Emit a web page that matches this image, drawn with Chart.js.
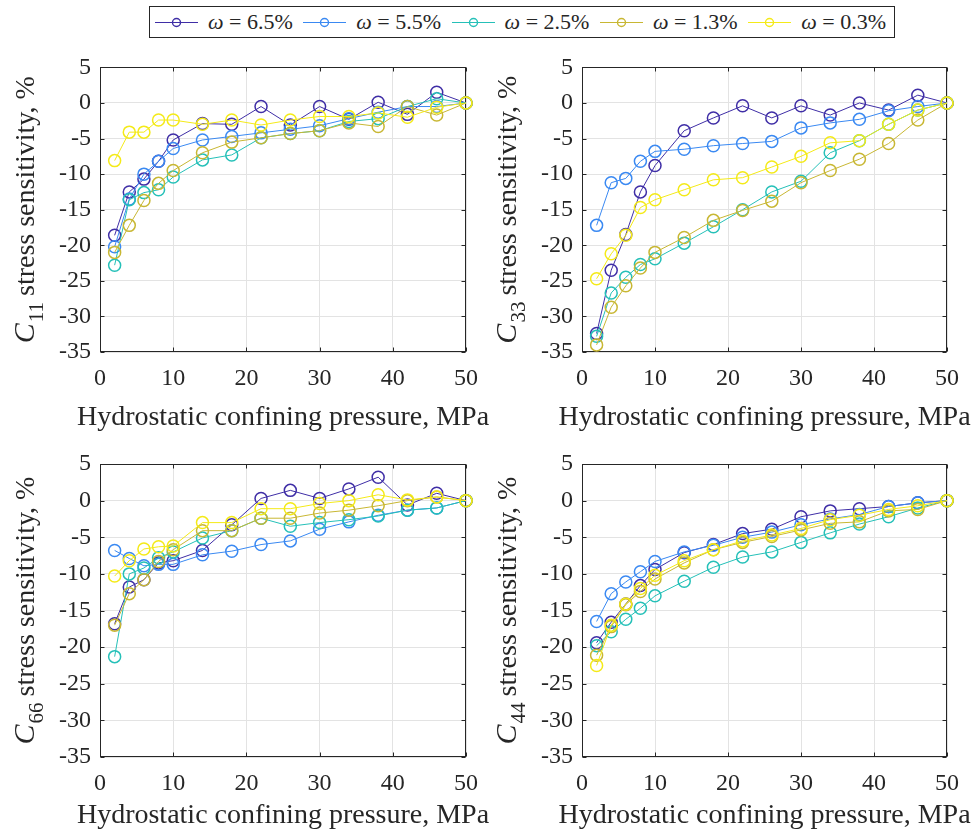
<!DOCTYPE html>
<html>
<head>
<meta charset="utf-8">
<script src="https://cdn.jsdelivr.net/npm/chart.js@4.4.1/dist/chart.umd.min.js"></script>
<style>
  body {
    margin: 0;
    width: 977px;
    height: 829px;
    position: relative;
    overflow: hidden;
    background: #fff;
    color: #262626;
    font-family: "Liberation Serif", "Times New Roman", serif;
  }
  canvas { position: absolute; }
  #legend {
    position: absolute;
    left: 149px;
    top: 6px;
    width: 746px;
    height: 32px;
    box-sizing: border-box;
    border: 1px solid #262626;
    background: #fff;
  }
  .item { position: absolute; top: 0; height: 30px; }
  .item svg { position: absolute; left: 0; top: 0; }
  .item span { position: absolute; left: 53px; top: 0; line-height: 30px; font-size: 22px; white-space: nowrap; }
</style>
</head>
<body>
<div id="legend"></div>
<canvas id="c11" width="490" height="395" style="left:0;top:44px"></canvas>
<canvas id="c33" width="489" height="395" style="left:488px;top:44px"></canvas>
<canvas id="c66" width="490" height="389" style="left:0;top:440px"></canvas>
<canvas id="c44" width="489" height="389" style="left:488px;top:440px"></canvas>
<script>
// Confining pressure, MPa
const pressure = [2, 4, 6, 8, 10, 14, 18, 22, 26, 30, 34, 38, 42, 46, 50];
// Porosity of each series, %
const omega = ['6.5', '5.5', '2.5', '1.3', '0.3'];
const xTicks = [0, 10, 20, 30, 40, 50];
const yTicks = [-35, -30, -25, -20, -15, -10, -5, 0, 5];

// C11 stress sensitivity, %
const c11W65 = [-18.6, -12.5, -10.7, -8.2, -5.2, -2.9, -3.0, -0.5, -3.1, -0.5, -2.3, 0.1, -1.6, 1.5, 0];
const c11W55 = [-20.2, -13.5, -10.0, -8.2, -6.4, -5.2, -4.7, -4.2, -3.7, -3.2, -2.2, -1.3, -0.5, -0.5, 0];
const c11W25 = [-22.8, -13.6, -12.6, -12.2, -10.4, -8.0, -7.3, -4.9, -4.3, -3.9, -2.6, -2.2, -0.5, 0.6, 0];
const c11W13 = [-21.0, -17.2, -13.7, -11.3, -9.5, -7.0, -5.5, -4.9, -4.3, -3.9, -2.8, -3.3, -0.5, -1.7, 0];
const c11W03 = [-8.1, -4.1, -4.1, -2.4, -2.4, -3.0, -2.4, -3.1, -2.4, -1.9, -1.9, -1.4, -2.0, -0.6, 0];

// C33 stress sensitivity, %
const c33W65 = [-32.4, -23.5, -18.5, -12.5, -8.8, -3.9, -2.1, -0.4, -2.1, -0.4, -1.7, 0, -1.0, 1.1, 0];
const c33W55 = [-17.2, -11.2, -10.6, -8.2, -6.8, -6.5, -6.0, -5.7, -5.4, -3.5, -2.8, -2.3, -1.1, -0.5, 0];
const c33W25 = [-32.8, -26.7, -24.5, -22.7, -21.9, -19.7, -17.4, -15.0, -12.5, -11.0, -7.0, -5.3, -3.0, -1.0, 0];
const c33W13 = [-34.0, -28.7, -25.7, -23.2, -21.0, -18.9, -16.5, -15.1, -13.8, -11.2, -9.5, -7.9, -5.7, -2.4, 0];
const c33W03 = [-24.7, -21.2, -18.6, -14.7, -13.6, -12.2, -10.8, -10.5, -9.0, -7.5, -5.6, -5.3, -3.0, -1.0, 0];

// C66 stress sensitivity, %
const c66W65 = [-16.8, -11.8, -10.8, -8.5, -8.2, -6.8, -3.3, 0.3, 1.4, 0.3, 1.6, 3.2, -0.6, 1.0, 0];
const c66W55 = [-6.8, -7.9, -8.9, -8.7, -8.7, -7.4, -6.9, -6.0, -5.5, -3.9, -2.9, -2.0, -1.3, -1.0, 0];
const c66W25 = [-21.3, -10.0, -9.2, -7.8, -7.0, -5.1, -4.1, -2.4, -3.5, -3.0, -2.6, -2.1, -1.3, -1.0, 0];
const c66W13 = [-17.0, -12.7, -10.8, -8.3, -6.7, -4.1, -4.1, -2.4, -2.4, -1.7, -1.3, -0.7, 0, 0.5, 0];
const c66W03 = [-10.3, -8.2, -6.6, -6.3, -6.2, -3.0, -3.0, -1.1, -1.1, -0.4, 0, 0.8, 0.1, 0.5, 0];

// C44 stress sensitivity, %
const c44W65 = [-19.4, -16.6, -14.1, -11.6, -9.4, -7.1, -6.0, -4.5, -3.9, -2.2, -1.4, -1.1, -0.8, -0.3, 0];
const c44W55 = [-16.5, -12.7, -11.1, -9.7, -8.3, -7.0, -6.1, -5.0, -4.3, -3.3, -2.5, -1.9, -0.8, -0.3, 0];
const c44W25 = [-19.8, -17.9, -16.2, -14.7, -13.0, -11.0, -9.1, -7.7, -7.0, -5.7, -4.4, -3.2, -2.2, -1.0, 0];
const c44W13 = [-21.1, -17.2, -14.2, -12.4, -10.7, -8.5, -6.7, -5.7, -4.9, -4.0, -3.1, -2.9, -1.4, -1.2, 0];
const c44W03 = [-22.5, -17.0, -14.1, -12.0, -10.2, -8.2, -6.7, -5.5, -4.7, -3.8, -2.6, -2.0, -1.2, -0.7, 0];

const seriesColors = ['#3f2ea6', '#3a89f2', '#25c0b8', '#c8b733', '#f4ea18'];
const axisColor = '#262626';
const fontFamily = '"Liberation Serif", "Times New Roman", serif';
const tickFont = { family: 'Liberation Serif', size: 24 };

Chart.defaults.font.family = 'Liberation Serif';
Chart.defaults.font.size = 24;
Chart.defaults.color = axisColor;

// Legend across the top
const legend = document.getElementById('legend');
omega.forEach((w, i) => {
  const item = document.createElement('div');
  item.className = 'item';
  item.style.left = (5 + i * 148.3) + 'px';
  item.innerHTML =
    '<svg width="43" height="30"><line x1="0" y1="15.5" x2="43" y2="15.5" stroke="' + seriesColors[i] + '" stroke-width="1.2"/>' +
    '<circle cx="21.5" cy="15.5" r="4" fill="none" stroke="' + seriesColors[i] + '" stroke-width="1.4"/></svg>' +
    '<span><i>ω</i> = ' + w + '%</span>';
  legend.appendChild(item);
});

// MATLAB style box, inward ticks and axis titles
const matlabAxes = {
  id: 'matlabAxes',
  beforeDatasetsDraw(chart) {
    const { ctx, chartArea: a, scales: { x, y } } = chart;
    const l = Math.round(a.left) + 0.5, r = Math.round(a.right) - 0.5;
    const t = Math.round(a.top) + 0.5, b = Math.round(a.bottom) - 0.5;
    ctx.save();
    ctx.strokeStyle = axisColor;
    ctx.lineWidth = 1;
    ctx.strokeRect(l, t, r - l, b - t);
    ctx.beginPath();
    xTicks.forEach(v => {
      const px = Math.round(x.getPixelForValue(v)) + 0.5;
      ctx.moveTo(px, b); ctx.lineTo(px, b - 4);
      ctx.moveTo(px, t); ctx.lineTo(px, t + 4);
    });
    yTicks.forEach(v => {
      const py = Math.round(y.getPixelForValue(v)) + 0.5;
      ctx.moveTo(l, py); ctx.lineTo(l + 4, py);
      ctx.moveTo(r, py); ctx.lineTo(r - 4, py);
    });
    ctx.stroke();
    ctx.restore();
  },
  afterDraw(chart, args, opts) {
    const { ctx, chartArea: a } = chart;
    ctx.save();
    ctx.fillStyle = axisColor;
    ctx.textBaseline = 'alphabetic';
    ctx.font = '28px ' + fontFamily;
    ctx.textAlign = 'center';
    ctx.fillText('Hydrostatic confining pressure, MPa', (a.left + a.right) / 2, a.bottom + opts.xGap);

    // y title: italic C with subscript, rotated
    const big = '28px ' + fontFamily, ital = 'italic 30px ' + fontFamily, small = '21px ' + fontFamily;
    const rest = ' stress sensitivity, %';
    ctx.font = ital; const wc = ctx.measureText('C').width;
    ctx.font = small; const ws = ctx.measureText(opts.sub).width;
    ctx.font = big; const wr = ctx.measureText(rest).width;
    const total = wc + ws + wr;
    ctx.translate(a.left - 66, (a.top + a.bottom) / 2);
    ctx.rotate(-Math.PI / 2);
    ctx.textAlign = 'left';
    let cx = -total / 2;
    ctx.font = ital; ctx.fillText('C', cx, 0); cx += wc + 1;
    ctx.font = small; ctx.fillText(opts.sub, cx, 9); cx += ws - 1;
    ctx.font = big; ctx.fillText(rest, cx, 0);
    ctx.restore();
  }
};

function makePanel(id, sub, series, canvasBox, plotBox, xGap) {
  const datasets = series.map((vals, i) => ({
    label: 'ω = ' + omega[i] + '%',
    data: pressure.map((p, k) => ({ x: p, y: vals[k] })),
    borderColor: seriesColors[i],
    borderWidth: 1,
    pointBorderColor: seriesColors[i],
    pointBackgroundColor: 'rgba(0,0,0,0)',
    pointRadius: 6,
    pointBorderWidth: 1.5,
    tension: 0,
    clip: false,
    order: series.length - i
  }));
  const yAxisW = 50, xAxisH = 34;
  new Chart(document.getElementById(id), {
    type: 'line',
    data: { datasets },
    options: {
      responsive: false,
      animation: false,
      devicePixelRatio: 1,
      layout: {
        padding: {
          left: plotBox.l - canvasBox.x - yAxisW,
          top: plotBox.t - canvasBox.y,
          right: canvasBox.x + canvasBox.w - plotBox.r,
          bottom: canvasBox.y + canvasBox.h - plotBox.b - xAxisH
        }
      },
      plugins: {
        legend: { display: false },
        tooltip: { enabled: false },
        matlabAxes: { sub, xGap }
      },
      scales: {
        x: {
          type: 'linear',
          min: 0,
          max: 50,
          afterFit: s => { s.height = xAxisH; },
          afterBuildTicks: s => { s.ticks = xTicks.map(v => ({ value: v })); },
          ticks: { padding: 12, font: tickFont, color: axisColor, callback: v => String(v), maxRotation: 0 },
          grid: { color: '#e3e3e3', drawTicks: false },
          border: { display: false }
        },
        y: {
          type: 'linear',
          min: -35,
          max: 5,
          afterFit: s => { s.width = yAxisW; },
          afterBuildTicks: s => { s.ticks = yTicks.map(v => ({ value: v })); },
          ticks: { padding: 9, font: tickFont, color: axisColor, callback: v => String(v) },
          grid: { color: '#e3e3e3', drawTicks: false },
          border: { display: false }
        }
      }
    },
    plugins: [matlabAxes]
  });
}

makePanel('c11', '11', [c11W65, c11W55, c11W25, c11W13, c11W03],
  { x: 0, y: 44, w: 490, h: 395 }, { l: 100, t: 59, r: 467, b: 352 }, 73);
makePanel('c33', '33', [c33W65, c33W55, c33W25, c33W13, c33W03],
  { x: 488, y: 44, w: 489, h: 395 }, { l: 582, t: 59, r: 947, b: 352 }, 73);
makePanel('c66', '66', [c66W65, c66W55, c66W25, c66W13, c66W03],
  { x: 0, y: 440, w: 490, h: 389 }, { l: 100, t: 464, r: 467, b: 757 }, 66);
makePanel('c44', '44', [c44W65, c44W55, c44W25, c44W13, c44W03],
  { x: 488, y: 440, w: 489, h: 389 }, { l: 582, t: 464, r: 947, b: 757 }, 66);
</script>
</body>
</html>
